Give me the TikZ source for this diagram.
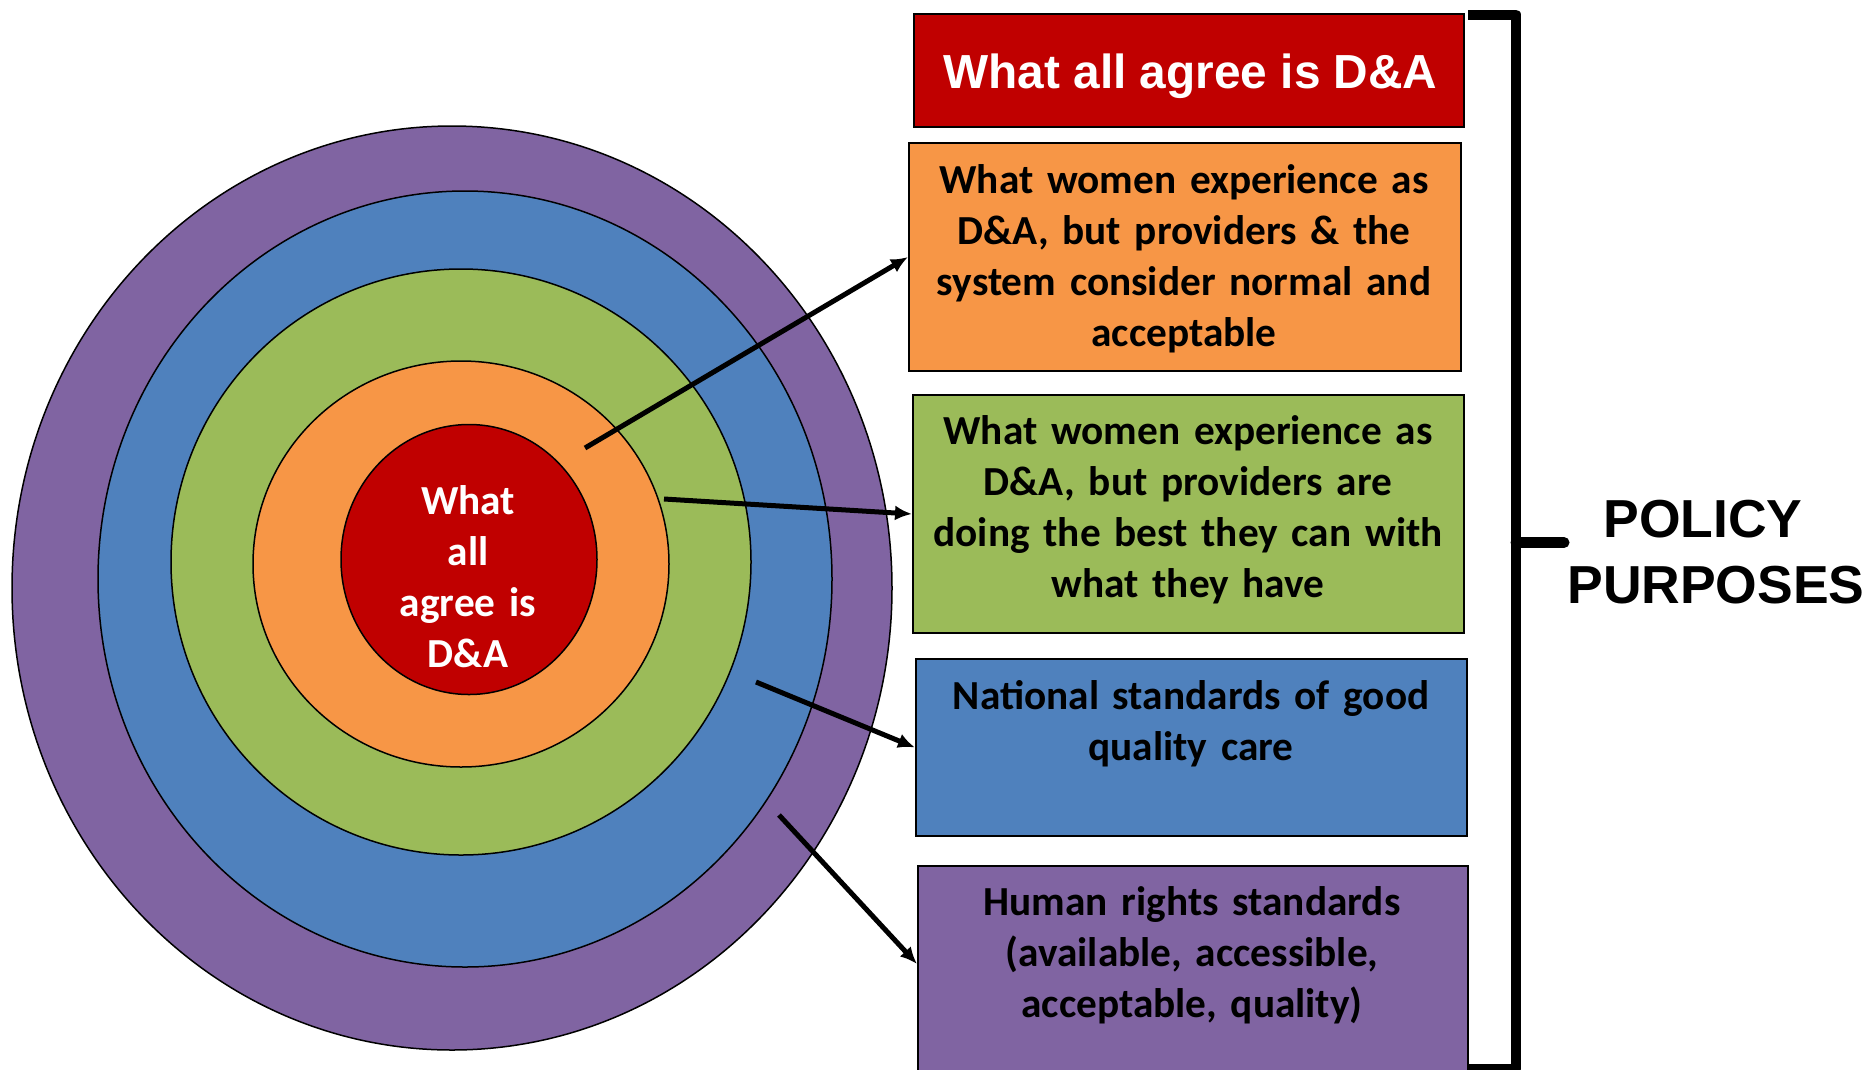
\documentclass[tikz,border=0pt]{standalone}
\usepackage{fontspec}
\setmainfont{Carlito}
\newfontfamily\arialfont{Liberation Sans}
\usetikzlibrary{arrows.meta,shapes.geometric}
\definecolor{cRed}{RGB}{192,0,0}
\definecolor{cOrange}{RGB}{247,150,70}
\definecolor{cGreen}{RGB}{155,187,89}
\definecolor{cBlue}{RGB}{79,129,189}
\definecolor{cPurple}{RGB}{128,100,162}
\begin{document}
\begin{tikzpicture}[x=1pt,y=-1pt,
  ring/.style={ellipse, draw=black, line width=1.5pt, inner sep=0pt, outer sep=0pt},
  box/.style={rectangle, draw=black, line width=2pt, inner sep=0pt},
  boxtext/.style={font=\bfseries\fontsize{41.3}{51}\selectfont, align=center, inner sep=0pt, text width=580pt, anchor=base},
  pointer/.style={line width=5pt, -{Latex[length=17pt,width=15pt]}},
  bracket/.style={line width=10pt, line join=round}]
\useasboundingbox (0,0) rectangle (1868,1069);

% rings
\node[ring, fill=cPurple, minimum width=880pt, minimum height=924pt] (ringP) at (452,588) {};
\node[ring, fill=cBlue, minimum width=734pt, minimum height=776pt] (ringB) at (465,579) {};
\node[ring, fill=cGreen, minimum width=580pt, minimum height=586pt] (ringG) at (461,562) {};
\node[ring, fill=cOrange, minimum width=416pt, minimum height=406pt] (ringO) at (461,564) {};
\node[ring, fill=cRed, minimum width=256pt, minimum height=270pt] (ringR) at (469,559.5) {};
\node[boxtext, text width=300pt, text=white] (ringtext) at (468,514) {What\\all\\agree is\\D\&A};

% boxes
\node[box, fill=cRed, minimum width=550pt, minimum height=113pt] (bRed) at (1189,70.5) {};
\node[box, fill=cOrange, minimum width=552pt, minimum height=228pt] (bOrange) at (1185,257) {};
\node[box, fill=cGreen, minimum width=551pt, minimum height=238pt] (bGreen) at (1188.5,514) {};
\node[box, fill=cBlue, minimum width=551pt, minimum height=177pt] (bBlue) at (1191.5,747.5) {};
\node[box, fill=cPurple, minimum width=550pt, minimum height=214pt] (bPurple) at (1193,973) {};

\node[font=\arialfont\bfseries\fontsize{47.8}{57}\selectfont, text=white, inner sep=0pt, anchor=base] (tRed) at (1190.5,88) {What all agree is D\&A};
\node[boxtext] (tOrange) at (1184,193) {What women experience as\\D\&A, but providers \& the\\system consider normal and\\acceptable};
\node[boxtext] (tGreen) at (1188,444) {What women experience as\\D\&A, but providers are\\doing the best they can with\\what they have};
\node[boxtext] (tBlue) at (1191,709) {National standards of good\\quality care};
\node[boxtext] (tPurple) at (1192,915) {Human rights standards\\(available, accessible,\\acceptable, quality)};

% pointers
\coordinate (s1) at (585,448);
\coordinate (s2) at (664,499);
\coordinate (s3) at (756,682);
\coordinate (s4) at (779,815);
\draw[pointer] (s1) -- (bOrange.west);
\draw[pointer] (s2) -- (bGreen.west);
\draw[pointer] (s3) -- (bBlue.west);
\draw[pointer] (s4) -- ([yshift=-99pt]bPurple.north west);

% bracket
\coordinate (k1) at (1468,14.5);
\coordinate (k2) at (1516,14.5);
\coordinate (k3) at (1516,1069);
\coordinate (k4) at (1468,1069);
\coordinate (km) at (1516,542.5);
\coordinate (kt) at (1564,542.5);
\draw[bracket] (k1) -- (k2) -- (k3) -- (k4);
\draw[line width=11pt, line cap=round] (km) -- (kt);

\node[font=\arialfont\bfseries\fontsize{53.5}{66}\selectfont, align=center, text width=360pt, inner sep=0pt, anchor=base] (policy) at (1716,537) {\mbox{POLICY\kern26pt}\\PURPOSES};
\end{tikzpicture}
\end{document}
